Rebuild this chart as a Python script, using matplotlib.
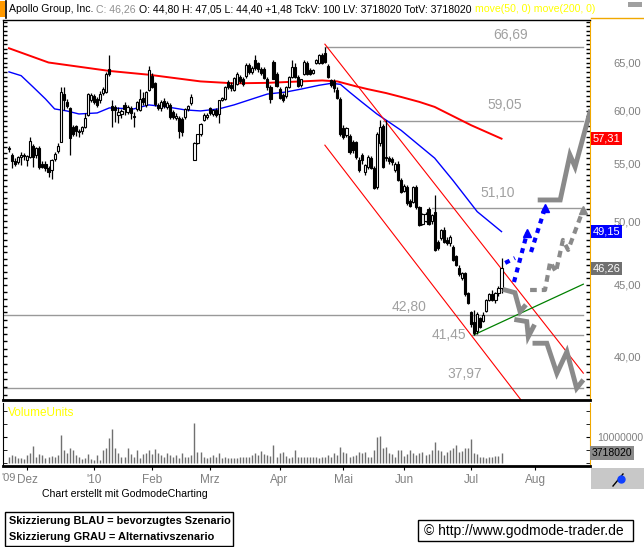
import numpy as np
import matplotlib.pyplot as plt
from matplotlib.patches import Rectangle
from matplotlib.lines import Line2D
from matplotlib.ticker import FixedLocator, FixedFormatter, NullFormatter

plt.rcParams['font.family'] = ['Liberation Sans', 'DejaVu Sans']

# ------------------------------------------------------------
# data (daily bars, Nov 2009 - 16 Jul 2010), index = trading day
# ------------------------------------------------------------
opens = [56.3, 55.8, 55.2, 55.1, 55.6, 55.8, 55.3, 55.6, 56.6, 55.8,
         56.4, 55.0, 55.0, 54.6, 54.4, 55.4, 56.2, 57.0, 61.7, 60.9,
         60.3, 58.4, 58.5, 57.9, 58.0, 58.4, 59.6, 61.1, 61.5, 61.2,
         61.1, 61.8, 61.9, 64.3, 60.5, 60.4, 59.6, 59.7, 60.6, 59.9,
         60.3, 59.5, 60.2, 60.1, 61.3, 60.6, 62.1, 63.6, 62.8, 60.6,
         60.3, 61.0, 60.4, 60.6, 59.9, 59.3, 59.3, 59.2, 59.4, 60.2,
         60.8, 55.35, 56.9, 57.8, 59.1, 59.4, 60.3, 59.7, 60.1, 59.7,
         61.1, 61.2, 62.9, 62.6, 62.1, 62.7, 63.5, 63.3, 63.6, 64.7,
         64.0, 65.3, 64.9, 64.3, 64.3, 63.3, 62.4, 65.1, 63.8, 62.2,
         61.6, 61.5, 62.4, 63.5, 64.5, 63.5, 62.6, 63.8, 65.0, 64.2,
         63.9, 64.9, 64.9, 65.8, 66.0, 64.6, 63.1, 63.0, 62.1, 61.2,
         58.3, 57.7, 57.6, 57.0, 57.0, 55.3, 55.8, 54.25, 54.7, 55.5,
         54.6, 52.9, 56.9, 58.5, 55.6, 55.5, 55.4, 54.4, 55.0, 53.5,
         52.6, 52.9, 51.7, 51.6, 52.9, 51.2, 49.8, 50.0, 51.0, 50.0,
         50.8, 48.3, 48.6, 49.3, 48.5, 48.2, 47.9, 47.2, 46.3, 45.5,
         45.9, 44.4, 43.0, 42.3, 41.7, 42.6, 42.4, 43.1, 43.9, 44.3,
         43.9, 44.4, 44.80]
highs = [56.6, 56.0, 55.5, 55.7, 56.1, 56.0, 55.8, 57.5, 56.8, 56.5,
         56.6, 55.2, 55.2, 54.8, 55.4, 56.1, 56.9, 62.4, 62.4, 61.2,
         60.4, 58.6, 58.6, 58.2, 58.5, 59.8, 61.8, 61.8, 61.7, 61.4,
         62.0, 62.4, 64.0, 65.8, 61.1, 60.6, 60.4, 60.2, 60.9, 60.6,
         60.5, 59.9, 61.0, 62.2, 61.9, 62.0, 64.6, 63.9, 62.9, 60.8,
         61.1, 61.3, 61.0, 60.8, 60.1, 59.8, 59.5, 59.4, 60.3, 60.6,
         61.7, 56.95, 57.8, 58.8, 59.8, 59.8, 60.4, 60.2, 60.3, 61.1,
         61.4, 62.5, 63.1, 62.9, 63.5, 64.0, 63.7, 63.5, 65.0, 64.9,
         64.6, 65.8, 65.1, 64.5, 64.5, 63.5, 62.6, 65.3, 64.0, 62.4,
         61.8, 62.5, 63.6, 65.3, 64.9, 63.7, 63.3, 65.3, 65.2, 64.4,
         64.3, 65.4, 65.9, 66.0, 66.69, 64.8, 63.3, 63.2, 62.4, 61.4,
         58.6, 58.4, 57.8, 57.2, 57.1, 55.6, 56.0, 55.0, 55.8, 55.7,
         54.8, 57.9, 59.1, 58.7, 59.1, 55.7, 55.6, 55.1, 55.2, 53.7,
         53.2, 53.1, 51.9, 53.0, 53.1, 51.3, 50.7, 50.8, 51.2, 50.6,
         52.2, 48.5, 49.4, 49.5, 48.7, 48.9, 48.1, 47.3, 46.5, 46.0,
         46.0, 44.5, 43.1, 43.2, 43.0, 42.7, 43.0, 44.0, 44.4, 44.6,
         44.5, 44.9, 47.05]
lows = [56.1, 54.6, 54.8, 55.0, 54.9, 55.3, 54.8, 55.5, 54.7, 55.5,
        54.5, 54.6, 54.3, 53.8, 53.6, 55.2, 56.0, 57.0, 60.1, 60.3,
        55.8, 57.6, 57.6, 57.5, 57.8, 58.3, 59.5, 60.9, 60.7, 60.4,
        60.8, 61.6, 61.8, 63.6, 58.4, 58.9, 58.8, 59.3, 59.6, 59.7,
        59.2, 58.4, 60.0, 60.0, 60.6, 60.4, 62.0, 62.3, 60.5, 60.1,
        60.0, 60.3, 60.2, 59.2, 59.2, 59.1, 57.35, 57.6, 59.2, 60.0,
        60.6, 55.3, 56.8, 57.6, 59.0, 59.2, 59.6, 59.5, 59.4, 58.8,
        61.0, 61.1, 62.2, 62.0, 62.0, 62.6, 62.8, 62.5, 63.4, 63.8,
        63.8, 64.2, 64.0, 63.7, 63.3, 62.1, 60.8, 63.2, 62.4, 61.2,
        60.9, 61.3, 62.3, 63.4, 63.4, 62.4, 62.4, 63.7, 63.7, 63.7,
        63.8, 64.8, 64.8, 64.8, 64.9, 63.4, 62.4, 61.9, 61.2, 57.6,
        57.3, 57.5, 55.9, 56.0, 55.4, 54.2, 55.0, 54.0, 54.5, 54.5,
        52.7, 52.7, 56.6, 54.6, 55.2, 55.0, 54.9, 54.2, 53.4, 52.4,
        52.5, 51.4, 51.2, 51.5, 51.0, 49.6, 49.7, 49.9, 49.7, 49.8,
        47.6, 47.7, 48.5, 48.2, 48.1, 48.0, 46.8, 46.4, 45.7, 45.4,
        44.2, 43.6, 42.0, 41.45, 41.5, 41.9, 42.3, 43.0, 43.8, 43.8,
        43.7, 44.2, 44.40]
closes = [56.4, 55.2, 55.0, 55.6, 55.8, 55.7, 55.7, 57.1, 55.6, 56.4,
          54.7, 54.7, 54.6, 54.2, 55.3, 55.9, 56.6, 61.9, 61.1, 60.5,
          57.4, 57.8, 58.0, 58.0, 58.4, 59.3, 61.7, 61.6, 60.9, 60.6,
          61.7, 62.2, 63.8, 63.8, 60.1, 60.1, 59.9, 60.0, 60.2, 60.4,
          59.8, 59.4, 60.9, 61.2, 60.9, 61.9, 64.2, 62.4, 60.7, 60.3,
          60.9, 60.5, 60.8, 59.4, 59.4, 59.5, 58.0, 57.9, 60.2, 60.5,
          61.4, 56.9, 57.8, 58.7, 59.6, 59.6, 59.8, 60.1, 59.6, 61.1,
          61.3, 62.4, 62.4, 62.3, 63.4, 63.8, 63.0, 62.7, 64.7, 64.0,
          64.4, 64.4, 64.3, 63.9, 63.4, 62.4, 61.2, 63.3, 62.5, 61.3,
          61.1, 62.4, 63.5, 64.5, 63.5, 62.5, 63.2, 65.1, 63.8, 63.8,
          64.2, 65.3, 65.8, 64.9, 65.1, 63.5, 62.6, 62.3, 61.3, 57.8,
          57.5, 58.3, 56.1, 56.25, 55.6, 54.4, 55.3, 54.9, 55.6, 54.6,
          52.8, 57.8, 58.4, 54.7, 55.5, 55.2, 55.1, 55.0, 53.5, 52.5,
          53.0, 51.5, 51.3, 52.9, 51.2, 49.7, 50.6, 50.6, 49.8, 50.5,
          47.7, 47.8, 49.3, 48.3, 48.2, 48.7, 46.9, 46.5, 45.8, 45.9,
          44.3, 43.7, 42.2, 41.6, 42.9, 42.0, 42.8, 43.9, 44.3, 43.9,
          44.4, 44.8, 46.26]
volume_mio = [2.2, 3.1, 2.6, 2.1, 1.8, 1.6, 3.1, 3.7, 6.4, 2.4,
              3.3, 3.1, 2.1, 2.4, 2.6, 2.4, 3.1, 10.8, 4.9, 3.7,
              5.9, 4.9, 3.1, 2.4, 1.5, 1.8, 3.3, 1.5, 1.2, 3.1,
              1.2, 5.0, 5.6, 9.6, 13.0, 5.6, 3.7, 2.4, 2.4, 5.6,
              3.3, 2.4, 5.0, 1.8, 3.3, 4.0, 5.0, 3.3, 5.3, 3.7,
              3.1, 2.4, 3.7, 3.1, 2.4, 3.1, 1.8, 3.7, 2.4, 2.4,
              3.1, 15.3, 4.4, 4.4, 2.4, 2.1, 2.4, 3.1, 2.4, 3.7,
              2.1, 2.4, 2.1, 2.1, 2.1, 2.1, 2.2, 2.4, 2.2, 2.4,
              3.1, 3.7, 3.1, 4.6, 3.3, 3.1, 2.8, 7.0, 2.4, 3.7,
              4.4, 2.8, 2.1, 2.4, 5.0, 2.4, 2.2, 2.4, 2.2, 2.4,
              2.2, 2.4, 2.1, 2.4, 2.2, 3.1, 2.4, 3.7, 3.1, 6.2,
              4.4, 3.7, 2.4, 2.8, 3.1, 4.1, 3.7, 4.4, 2.4, 2.4,
              5.0, 10.0, 10.2, 5.6, 6.0, 3.7, 3.3, 2.4, 5.0, 5.0,
              2.8, 3.3, 5.0, 3.7, 3.1, 3.7, 4.4, 3.1, 3.3, 5.0,
              8.0, 5.0, 4.6, 3.1, 4.1, 5.0, 5.6, 7.0, 4.4, 4.6,
              5.6, 5.6, 9.2, 3.7, 3.3, 2.4, 2.4, 2.1, 2.4, 2.4,
              2.8, 2.6, 3.72]

month_pos = [6, 28, 47, 66, 89, 110, 130, 152, 173]
month_lbl = ['Dez', "'10", 'Feb', 'Mrz', 'Apr', 'Mai', 'Jun', 'Jul', 'Aug']

# moving averages
ma50_x = [0, 4, 8, 12, 15, 19, 23, 29, 33, 41, 46, 52, 58, 63, 69, 74, 80, 85,
          91, 96, 102, 106, 109, 112, 116, 121, 125, 129, 134, 140, 146, 154, 162]
ma50_y = [64.0, 63.6, 62.4, 61.2, 60.2, 60.0, 59.7, 59.8, 60.3, 60.2, 60.6, 60.4,
          60.1, 60.0, 60.2, 60.6, 61.2, 61.7, 61.9, 62.2, 62.6, 62.8, 62.7, 61.9,
          60.9, 59.7, 58.9, 58.1, 56.9, 55.5, 53.5, 50.8, 49.15]
ma200_x = [0, 13, 33, 46, 63, 74, 85, 96, 103, 108, 114, 118, 124, 129, 135, 140, 152, 162]
ma200_y = [66.55, 65.0, 64.1, 63.7, 63.0, 62.8, 62.85, 63.0, 63.1, 63.0, 62.5, 62.2,
           61.8, 61.4, 60.9, 60.4, 58.6, 57.31]

# trend channel and support line
chan_up_x, chan_up_y = [103.9, 188.9], [67.0, 38.9]
chan_lo_x, chan_lo_y = [103.9, 169.7], [56.7, 36.9]
green_x, green_y = [153, 188.9], [41.45, 45.06]

# horizontal levels
levels = [66.69, 59.05, 51.10, 42.80, 41.45, 37.97]
level_start = [104, 123, 139, -2, 152.3, -2]
level_lbl_x = [165.1, 163.2, 160.9, 131.6, 150.3, 150.0]
level_end = 188.9

# scenario sketches (hand drawn strokes)
blue_strokes = [([163.2, 166.4], [46.67, 47.05]),
                ([166.1, 170.4], [45.22, 49.04]),
                ([171.7, 176.3], [47.52, 51.10])]
gray_dn_strokes = [([163.2, 166.4, 168.1, 169.5], [44.63, 44.43, 43.06, 43.42]),
                   ([167.0, 170.3, 170.8, 172.5], [42.48, 42.36, 41.32, 42.00]),
                   ([173.0, 176.9, 180.2, 183.5, 186.7, 188.4], [40.87, 40.87, 38.89, 40.30, 37.94, 38.35])]
gray_dash_x = [171.4, 176.3, 178.0, 179.9, 182.2, 183.9, 188.8]
gray_dash_y = [44.63, 44.63, 46.75, 45.98, 48.48, 47.68, 50.94]
gray_up_x = [174.7, 181.3, 184.5, 186.2, 191.1]
gray_up_y = [51.79, 51.79, 55.79, 54.7, 59.9]

# ------------------------------------------------------------
W, H = 644, 547
fig = plt.figure(figsize=(W / 100, H / 100), dpi=100)
fig.patch.set_facecolor('white')


def fx(px):
    return px / W


def fy(py):
    return 1 - py / H


GRAY_TXT = '#a0a0a0'
ORANGE = '#f0a800'
ax = fig.add_axes([fx(3), fy(400), fx(590) - fx(3), fy(20) - fy(400)])
axv = fig.add_axes([fx(3), fy(466), fx(590) - fx(3), fy(403) - fy(466)])

idx = np.arange(len(closes))
o = np.array(opens); c = np.array(closes)
hi = np.array(highs); lo = np.array(lows)

ax.set_yscale('log')
ax.set_ylim(37.21, 69.73)
ax.set_xlim(-1.97, 191.1)

# candles
ax.vlines(idx, lo, hi, color='black', lw=0.9, zorder=3)
up = c >= o
body_lo = np.minimum(o, c)
body_h = np.maximum(np.abs(c - o), 0.06)
ax.bar(idx[up], body_h[up], bottom=body_lo[up], width=0.7, facecolor='white',
       edgecolor='black', linewidth=0.8, zorder=4)
ax.bar(idx[~up], body_h[~up], bottom=body_lo[~up], width=0.7, facecolor='black',
       edgecolor='black', linewidth=0.8, zorder=4)

# moving averages
ax.plot(ma200_x, ma200_y, color='#ff0000', lw=1.4, zorder=2)
ax.plot(ma50_x, ma50_y, color='#0000ff', lw=1.0, zorder=2)

# channel
ax.plot(chan_up_x, chan_up_y, color='#ff0000', lw=0.8, zorder=2)
ax.plot(chan_lo_x, chan_lo_y, color='#ff0000', lw=0.8, zorder=2)
ax.plot(green_x, green_y, color='#008000', lw=0.9, zorder=2)

# levels
offs = [6, 8, 8, 3, 0, 7]
for lv, xs, lx, of in zip(levels, level_start, level_lbl_x, offs):
    ax.plot([xs, level_end], [lv, lv], color='#999999', lw=1.0, zorder=1)
    txt = f'{lv:.2f}'.replace('.', ',')
    if lv == 41.45:
        ax.text(lx, lv, txt, color=GRAY_TXT, fontsize=10, ha='right', va='center')
    else:
        ax.annotate(txt, (lx, lv), xytext=(0, of), textcoords='offset points',
                    color=GRAY_TXT, fontsize=10, ha='center', va='baseline')

# scenario sketches
GRAY_SK = '#8a8a8a'
ax.plot(gray_up_x, gray_up_y, color=GRAY_SK, lw=3.5, solid_joinstyle='miter', zorder=5)
for sx, sy in gray_dn_strokes:
    ax.plot(sx, sy, color=GRAY_SK, lw=3.5, solid_joinstyle='miter', zorder=5)
ax.plot(gray_dash_x, gray_dash_y, color=GRAY_SK, lw=3.0, linestyle=(0, (1.6, 1.2)), zorder=5)
ax.plot(gray_dash_x[-1], gray_dash_y[-1], marker='^', color=GRAY_SK, markersize=6, zorder=5)
for sx, sy in blue_strokes:
    ax.plot(sx, sy, color='#0000ff', lw=3.0, linestyle=(0, (1.2, 1.2)), zorder=6)
for sx, sy in blue_strokes[1:]:
    ax.plot(sx[-1], sy[-1], marker='^', color='#0000ff', markersize=6, zorder=6)

# right axis
ax.yaxis.tick_right()
ax.yaxis.set_major_locator(FixedLocator([40, 45, 50, 55, 60, 65]))
ax.yaxis.set_major_formatter(FixedFormatter(['40,00', '45,00', '50,00', '55,00', '60,00', '65,00']))
ax.yaxis.set_minor_locator(FixedLocator(np.arange(37.5, 70, 0.5)))
ax.yaxis.set_minor_formatter(NullFormatter())
ax.tick_params(axis='y', which='both', direction='in', length=3, width=1, color='black',
               left=True, right=True, labelleft=False, labelright=True,
               labelsize=8, labelcolor='#808080', pad=17)
ax.tick_params(axis='x', which='both', bottom=False, top=False, labelbottom=False)
ax.spines['right'].set_color(ORANGE)
ax.spines['bottom'].set_linewidth(2)
ax.spines['top'].set_linewidth(1)

# last value boxes
for val, fc in [(57.31, '#ff0000'), (49.15, '#0000ff'), (46.26, '#707070')]:
    ax.text(1.004, val, f'{val:.2f}'.replace('.', ','), transform=ax.get_yaxis_transform(),
            color='white', fontsize=8, ha='left', va='center',
            bbox=dict(boxstyle='square,pad=0.15', fc=fc, ec='none'), clip_on=False, zorder=10)

# volume
axv.vlines(idx, 0, volume_mio, color='#707070', lw=1.0)
axv.set_xlim(-1.97, 191.1)
axv.set_ylim(-1.15, 23)
axv.yaxis.tick_right()
axv.yaxis.set_major_locator(FixedLocator([10]))
axv.yaxis.set_major_formatter(FixedFormatter(['10000000']))
axv.yaxis.set_minor_locator(FixedLocator([0, 5, 15, 20]))
axv.tick_params(axis='y', which='both', direction='in', length=3, color='black',
                left=True, right=True, labelsize=7.5, labelcolor='#808080', pad=5)
axv.spines['right'].set_color(ORANGE)
axv.spines['bottom'].set_linewidth(2)
axv.spines['top'].set_visible(False)
axv.set_xticks(month_pos)
axv.set_xticklabels(month_lbl)
axv.tick_params(axis='x', direction='out', length=3, color='black', labelsize=8.5,
                labelcolor='#808080', pad=3)
axv.text(0.008, 0.93, 'VolumeUnits', transform=axv.transAxes, color='#ffff00',
         fontsize=8.5, va='top', ha='left')
axv.text(1.003, 3.718, '3718020', transform=axv.get_yaxis_transform(), color='black',
         fontsize=7.5, ha='left', va='center',
         bbox=dict(boxstyle='square,pad=0.2', fc='#8a8a8a', ec='none'), clip_on=False, zorder=10)
fig.text(fx(1), fy(478), "'09", color='#808080', fontsize=8, ha='left', va='center')

# ------------------------------------------------------------
# header
fig.patches.append(Rectangle((0, fy(17)), fx(5), fy(1) - fy(17), transform=fig.transFigure,
                             fc='#ff9900', ec='none'))
fig.lines.append(Line2D([fx(6), fx(6)], [fy(1), fy(18)], transform=fig.transFigure, color='black', lw=1.2))
fig.lines.append(Line2D([fx(591), fx(644)], [fy(18), fy(18)], transform=fig.transFigure, color=ORANGE, lw=1))
fig.patches.append(Rectangle((fx(628), fy(7)), fx(14), fy(2) - fy(7), transform=fig.transFigure,
                             fc='#a0a0a0', ec='none'))

hdr = [('Apollo Group, Inc.', 'black'), ('C: 46,26', '#909090'),
       ('O: 44,80 H: 47,05 L: 44,40 +1,48 TckV: 100 LV: 3718020 TotV: 3718020', 'black'),
       ('move(50, 0) move(200, 0)', '#ffff00')]
prev = fig.text(fx(9), fy(9), hdr[0][0], color=hdr[0][1], fontsize=7.6, va='center', ha='left')
for s, col in hdr[1:]:
    prev = ax.annotate(s, xy=(1, 0.5), xycoords=prev, xytext=(2.2, 0), textcoords='offset points',
                       color=col, fontsize=7.6, va='center', ha='left', annotation_clip=False)

# bottom right button
fig.patches.append(Rectangle((fx(591), fy(489)), fx(53), fy(468) - fy(489), transform=fig.transFigure,
                             fc='#c8c8c8', ec='none'))
fig.lines.append(Line2D([fx(613), fx(623)], [fy(486), fy(474)], transform=fig.transFigure, color='black', lw=1))
fig.lines.append(Line2D([fx(621)], [fy(479)], transform=fig.transFigure, color='#1040ff',
                        marker='o', markersize=5))

fig.text(fx(42), fy(494), 'Chart erstellt mit GodmodeCharting', fontsize=7.6, va='center', ha='left')

fig.patches.append(Rectangle((fx(5), fy(546)), fx(233) - fx(5), fy(512) - fy(546), transform=fig.transFigure,
                             fc='white', ec='black', lw=1))
fig.text(fx(9), fy(521), 'Skizzierung BLAU = bevorzugtes Szenario', fontsize=7.9,
         fontweight='bold', va='center', ha='left')
fig.text(fx(9), fy(537), 'Skizzierung GRAU = Alternativszenario', fontsize=7.9,
         fontweight='bold', va='center', ha='left')
fig.patches.append(Rectangle((fx(418), fy(541)), fx(633) - fx(418), fy(520) - fy(541), transform=fig.transFigure,
                             fc='white', ec='black', lw=1))
fig.text(fx(424), fy(530.5), '\u00a9 http://www.godmode-trader.de', fontsize=10, va='center', ha='left')

fig.savefig('out.png', dpi=100)
